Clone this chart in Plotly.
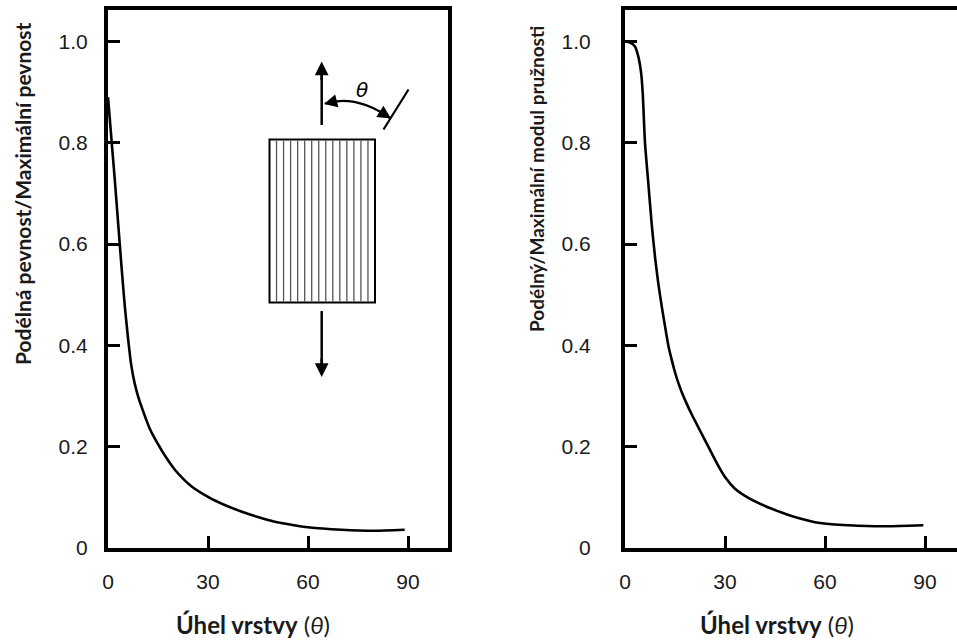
import plotly.graph_objects as go

# ---------------- data ----------------
theta_strength = [0, 1, 2, 3, 4, 5, 6, 7, 8, 9, 10, 12.5, 15, 17.5, 20, 22.5, 25, 30, 35, 40, 45, 50, 55, 60, 70, 80, 89]
strength_ratio = [0.89, 0.81, 0.73, 0.645, 0.56, 0.48, 0.415, 0.36, 0.325, 0.30, 0.28, 0.236, 0.205, 0.178, 0.155, 0.137, 0.122, 0.101, 0.085, 0.072, 0.061, 0.052, 0.046, 0.041, 0.036, 0.034, 0.036]

theta_modulus = [0, 1.5, 3, 4, 4.8, 5.3, 6, 7, 8, 9, 10, 11, 12, 13, 14, 15, 16, 17, 18.5, 20, 22.5, 25, 27.5, 30, 33, 37, 42, 47, 52, 57, 62, 67, 77, 85, 89.5]
modulus_ratio = [1.0, 0.998, 0.99, 0.97, 0.94, 0.90, 0.80, 0.72, 0.64, 0.575, 0.522, 0.478, 0.438, 0.40, 0.372, 0.347, 0.326, 0.308, 0.285, 0.264, 0.232, 0.20, 0.168, 0.14, 0.117, 0.099, 0.083, 0.07, 0.059, 0.051, 0.047, 0.045, 0.043, 0.044, 0.045]

x_tickvals = [0, 30, 60, 90]
x_ticktext = ["0", "30", "60", "90"]
y_tickvals = [0, 0.2, 0.4, 0.6, 0.8, 1.0]
y_ticktext = ["0", "0.2", "0.4", "0.6", "0.8", "1.0"]

ytitle_left = "Podélná pevnost/Maximální pevnost"
ytitle_right = "Podélný/Maximální modul pružnosti"
xtitle = "<b>Úhel vrstvy</b> (<i>θ</i>)"

# ---------------- layout geometry (pixels) ----------------
W, H = 957, 642
def px(x):
    return x / W
def py(y):
    return 1 - y / H

fig = go.Figure()
fig.add_trace(go.Scatter(x=theta_strength, y=strength_ratio, mode="lines",
                         line=dict(color="black", width=2.6, shape="spline", smoothing=0.5),
                         xaxis="x", yaxis="y", showlegend=False))
fig.add_trace(go.Scatter(x=theta_modulus, y=modulus_ratio, mode="lines",
                         line=dict(color="black", width=2.6, shape="spline", smoothing=0.6),
                         xaxis="x2", yaxis="y2", showlegend=False))

tickfont = dict(family="Liberation Sans, Arial, sans-serif", size=21, color="#1a1a1a")
common_x = dict(tickmode="array", tickvals=x_tickvals, ticktext=x_ticktext,
                ticks="inside", ticklen=12, tickwidth=2.5, tickcolor="black",
                showline=True, linewidth=4, linecolor="black", showgrid=False,
                zeroline=False, tickfont=tickfont, ticklabelstandoff=12)
common_y = dict(tickmode="array", tickvals=y_tickvals, ticktext=y_ticktext,
                ticks="inside", ticklen=12, tickwidth=2.5, tickcolor="black",
                showline=True, linewidth=4, linecolor="black", showgrid=False,
                zeroline=False, tickfont=tickfont)

y_dom = [py(548), py(10)]
y_rng = [0, (548 - 10) / 506.5]

fig.update_layout(
    width=W, height=H, template="none",
    paper_bgcolor="white", plot_bgcolor="white",
    margin=dict(l=0, r=0, t=0, b=0),
    xaxis=dict(domain=[px(108), px(448)], range=[0, (448 - 108) * 0.3], anchor="y", mirror=True, **common_x),
    yaxis=dict(domain=y_dom, range=y_rng, anchor="x", mirror=True, ticklabelstandoff=12, **common_y),
    xaxis2=dict(domain=[px(625), 1.0], range=[0, (957 - 625) * 0.3], anchor="y2", mirror=True, **common_x),
    yaxis2=dict(domain=y_dom, range=y_rng, anchor="x2", mirror=False, ticklabelstandoff=26, **common_y),
)

ytitlefont_l = dict(family="Lato, Open Sans, sans-serif", size=21, color="#1a1a1a")
ytitlefont_r = dict(family="Lato, Open Sans, sans-serif", size=19, color="#1a1a1a")
xtitlefont = dict(family="Lato, Open Sans, sans-serif", size=24, color="#1a1a1a")
ann = []
ann.append(dict(text="<b>" + ytitle_left + "</b>", x=px(23), y=py(194), xref="paper", yref="paper",
                textangle=-90, showarrow=False, font=ytitlefont_l, xanchor="center", yanchor="middle"))
ann.append(dict(text="<b>" + ytitle_right + "</b>", x=px(537), y=py(179), xref="paper", yref="paper",
                textangle=-90, showarrow=False, font=ytitlefont_r, xanchor="center", yanchor="middle"))
ann.append(dict(text=xtitle, x=px(253), y=py(624), xref="paper", yref="paper",
                showarrow=False, font=xtitlefont, xanchor="center", yanchor="middle"))
ann.append(dict(text=xtitle, x=px(777), y=py(624), xref="paper", yref="paper",
                showarrow=False, font=xtitlefont, xanchor="center", yanchor="middle"))

# ---------------- inset illustration ----------------
shapes = []
rx0, rx1, ry0, ry1 = 269.5, 375, 139.5, 302.5
shapes.append(dict(type="rect", xref="paper", yref="paper", x0=px(rx0), x1=px(rx1), y0=py(ry1), y1=py(ry0),
                   line=dict(color="black", width=2), fillcolor="white", layer="above"))
n_stripes = 15
for i in range(1, n_stripes):
    xs = rx0 + (rx1 - rx0) * i / n_stripes
    shapes.append(dict(type="line", xref="paper", yref="paper", x0=px(xs), x1=px(xs), y0=py(ry1 - 1), y1=py(ry0 + 1),
                       line=dict(color="#555555", width=1.3), layer="above"))
# arc
p0 = (325, 103.5); c = (356, 94); p2 = (390, 118)
path = "M {} {} Q {} {} {} {}".format(px(p0[0]), py(p0[1]), px(c[0]), py(c[1]), px(p2[0]), py(p2[1]))
shapes.append(dict(type="path", xref="paper", yref="paper", path=path, line=dict(color="black", width=2.2), layer="above"))
# slanted line
shapes.append(dict(type="line", xref="paper", yref="paper", x0=px(383.5), y0=py(129.5), x1=px(408.5), y1=py(89.5),
                   line=dict(color="black", width=2.2), layer="above"))
# vertical arrow stems
shapes.append(dict(type="line", xref="paper", yref="paper", x0=px(321.7), y0=py(125), x1=px(321.7), y1=py(70),
                   line=dict(color="black", width=2.5), layer="above"))
shapes.append(dict(type="line", xref="paper", yref="paper", x0=px(321.7), y0=py(311), x1=px(321.7), y1=py(368),
                   line=dict(color="black", width=2.5), layer="above"))

arrow_common = dict(xref="paper", yref="paper", text="", showarrow=True, arrowhead=2,
                    arrowcolor="black", standoff=0, startstandoff=0)
ann.append(dict(x=px(321.7), y=py(61.5), ax=0, ay=20, arrowsize=1.1, arrowwidth=2.5, **arrow_common))
ann.append(dict(x=px(321.7), y=py(377), ax=0, ay=-20, arrowsize=1.1, arrowwidth=2.5, **arrow_common))
ann.append(dict(x=px(324), y=py(104), ax=12, ay=-3, arrowsize=1.2, arrowwidth=2.2, **arrow_common))
ann.append(dict(x=px(391), y=py(118.5), ax=-11, ay=-7, arrowsize=1.2, arrowwidth=2.2, **arrow_common))
ann.append(dict(text="<i>θ</i>", x=px(362), y=py(90), xref="paper", yref="paper", showarrow=False,
                font=dict(family="DejaVu Sans, sans-serif", size=20, color="black"),
                xanchor="center", yanchor="middle"))

fig.update_layout(annotations=ann, shapes=shapes)
fig.write_html("out.html", config={"displayModeBar": False},
               post_script="document.body.style.margin='0px';document.body.style.overflow='hidden';")
